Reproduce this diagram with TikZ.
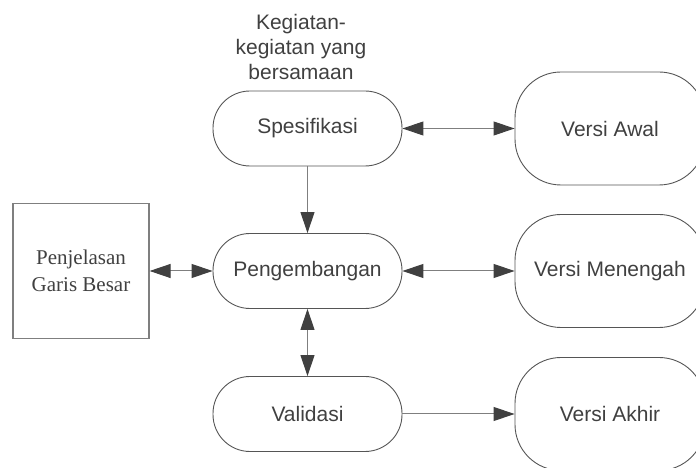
\documentclass[tikz,border=0pt]{standalone}
\usepackage{fontspec}
\setmainfont{Liberation Serif}
\setsansfont{Liberation Sans}
\usetikzlibrary{arrows.meta}
\definecolor{teks}{HTML}{404040}
\definecolor{garis}{HTML}{7F7F7F}
\definecolor{tepi}{HTML}{555555}

\begin{document}
\begin{tikzpicture}[
        x=1pt, y=1pt,
        >={Triangle[length=21pt,width=14pt,color=teks]},
        every node/.style={text=teks, font=\sffamily\fontsize{21}{25}\selectfont},
        proses/.style={draw=tepi, line width=0.9pt, rounded corners=37pt, minimum width=189pt, minimum height=75pt},
        versi/.style={draw=tepi, line width=0.9pt, rounded corners=46pt, minimum width=190pt, minimum height=113pt},
        kotak/.style={draw=garis, line width=1.2pt, minimum width=136pt, minimum height=135pt, align=center, font=\rmfamily\fontsize{21}{27}\selectfont},
        panah/.style={draw=garis, line width=1pt}
    ]
 \clip (0,0) rectangle (696,468);
 \node[align=center] (catatan) at (301,421) {Kegiatan-\\kegiatan yang\\bersamaan};
 \node[kotak] (penjelasan) at (81,197) {Penjelasan\\Garis Besar};
 \node[proses] (spesifikasi) at (307.5,339.5) {Spesifikasi};
 \node[proses] (pengembangan) at (307.5,197) {Pengembangan};
 \node[proses] (validasi) at (307.5,54) {Validasi};
 \node[versi] (awal) at (610,339.5) {Versi Awal};
 \node[versi] (menengah) at (610,197) {Versi Menengah};
 \node[versi] (akhir) at (610,54) {Versi Akhir};
 \draw[panah, <->] (spesifikasi) -- (awal);
 \draw[panah, ->] (spesifikasi) -- (pengembangan);
 \draw[panah, <->] (penjelasan) -- (pengembangan);
 \draw[panah, <->] (pengembangan) -- (menengah);
 \draw[panah, <->] (pengembangan) -- (validasi);
 \draw[panah, ->] (validasi) -- (akhir);
\end{tikzpicture}
\end{document}
